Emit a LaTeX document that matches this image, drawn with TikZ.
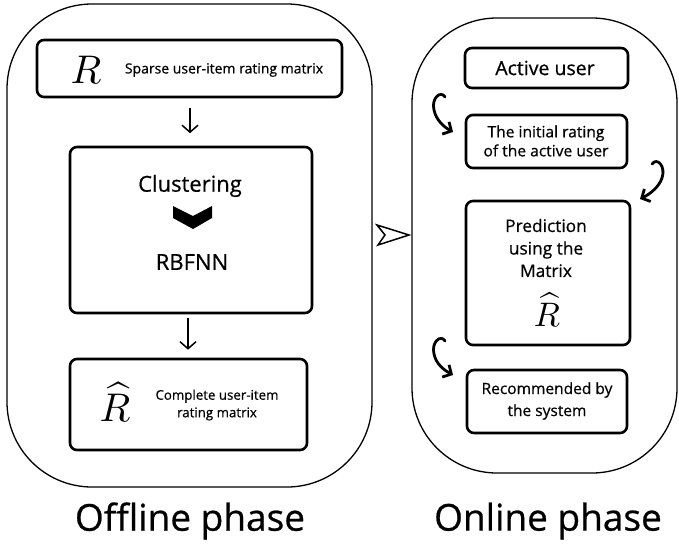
\documentclass[tikz,border=0pt]{standalone}
\usepackage{fontspec}
\setmainfont{Open Sans}[FakeBold=0.6]
\usetikzlibrary{arrows.meta}
\tikzset{
  bigbox/.style={draw, line width=1.3pt, rounded corners=85pt, inner sep=0pt},
  innerbox/.style={draw, line width=2.6pt, rounded corners=7pt, inner sep=0pt},
  txt/.style={inner sep=0pt, align=center},
  downarr/.style={line width=1.5pt, -{Straight Barb[length=7pt,width=16pt]}},
  curvarr/.style={line width=2.8pt, line cap=round, -{Straight Barb[length=6.5pt,width=14pt]}},
  phase/.style={inner sep=0pt, font=\fontsize{37}{40}\selectfont}
}
\begin{document}
\begin{tikzpicture}[x=1pt,y=-1pt]
\useasboundingbox (0,0) rectangle (679,543);
% big boxes
\node[bigbox, minimum width=365pt, minimum height=483pt] (offline) at (189.5,245.5) {};
\node[bigbox, minimum width=265pt, minimum height=455pt] (online) at (544.5,245.5) {};
% offline inner boxes
\node[innerbox, minimum width=305pt, minimum height=57pt] (sparse) at (189.5,68.5) {};
\node[txt, scale=4] (Rsym) at (86,70) {$R$};
\node[txt, font=\fontsize{14}{17}\selectfont] (sparsetxt) at (224,70) {Sparse user-item rating matrix};
\node[innerbox, minimum width=242pt, minimum height=166pt] (cluster) at (191,230) {};
\node[txt, font=\fontsize{22}{24}\selectfont] (clustxt) at (190,186) {Clustering};
\node[txt, font=\fontsize{22}{24}\selectfont] (rbf) at (192,262) {RBFNN};
\fill (173,206) -- (193,216) -- (212,206) -- (212,218) -- (193,229) -- (173,218) -- cycle;
\node[innerbox, minimum width=237pt, minimum height=91pt] (complete) at (188.5,404.5) {};
\node[txt, scale=4] (Rhat1) at (115,402) {$\widehat{R}$};
\node[txt, font=\fontsize{13.3}{17.5}\selectfont] (comptxt) at (217,405) {Complete user-item\\rating matrix};
% down arrows
\draw[downarr, shorten <=10pt, shorten >=12.5pt] (sparse.south -| 190,0) -- (cluster.north -| 190,0);
\draw[downarr, shorten <=4pt, shorten >=8pt] (cluster.south -| 188,0) -- (complete.north -| 188,0);
% between arrow
\draw[line width=1.5pt, line join=miter] (377,225) -- (409,235) -- (378,245) -- (385,235) -- cycle;
% online inner boxes
\node[innerbox, minimum width=163pt, minimum height=40pt] (active) at (546.5,68) {};
\node[txt, font=\fontsize{19.5}{22}\selectfont] (acttxt) at (545,68) {Active user};
\node[innerbox, minimum width=161pt, minimum height=53pt] (initial) at (546.5,141.5) {};
\node[txt, font=\fontsize{15.6}{19}\selectfont] (inittxt) at (546,141) {The initial rating\\of the active user};
\node[innerbox, minimum width=164pt, minimum height=144pt] (predict) at (548,273) {};
\node[txt, font=\fontsize{17.3}{22.5}\selectfont] (predtxt) at (546,248) {Prediction\\using the\\Matrix};
\node[txt, scale=3.4] (Rhat2) at (547,310) {$\widehat{R}$};
\node[innerbox, minimum width=160pt, minimum height=63pt] (recom) at (547,401.5) {};
\node[txt, font=\fontsize{15.5}{22}\selectfont] (rectxt) at (547,401) {Recommended by\\the system};
% curved arrows
\coordinate (c1s) at (445,97);
\coordinate (c1e) at (453,132);
\draw[curvarr] (c1s) .. controls (441,90) and (431,98) .. (434,110) .. controls (436,120) and (444,127) .. (c1e);
\coordinate (c2s) at (652,164);
\coordinate (c2e) at (640,199);
\draw[curvarr] (c2s) .. controls (657,157) and (666,166) .. (662,178) .. controls (659,187) and (650,194) .. (c2e);
\coordinate (c3s) at (445,341);
\coordinate (c3e) at (453,375);
\draw[curvarr] (c3s) .. controls (441,334) and (431,342) .. (434,354) .. controls (436,364) and (444,370) .. (c3e);
% phase labels
\node[phase] (offlab) at (190,521) {Offline phase};
\node[phase] (onlab) at (548,521) {Online phase};
\end{tikzpicture}
\end{document}
